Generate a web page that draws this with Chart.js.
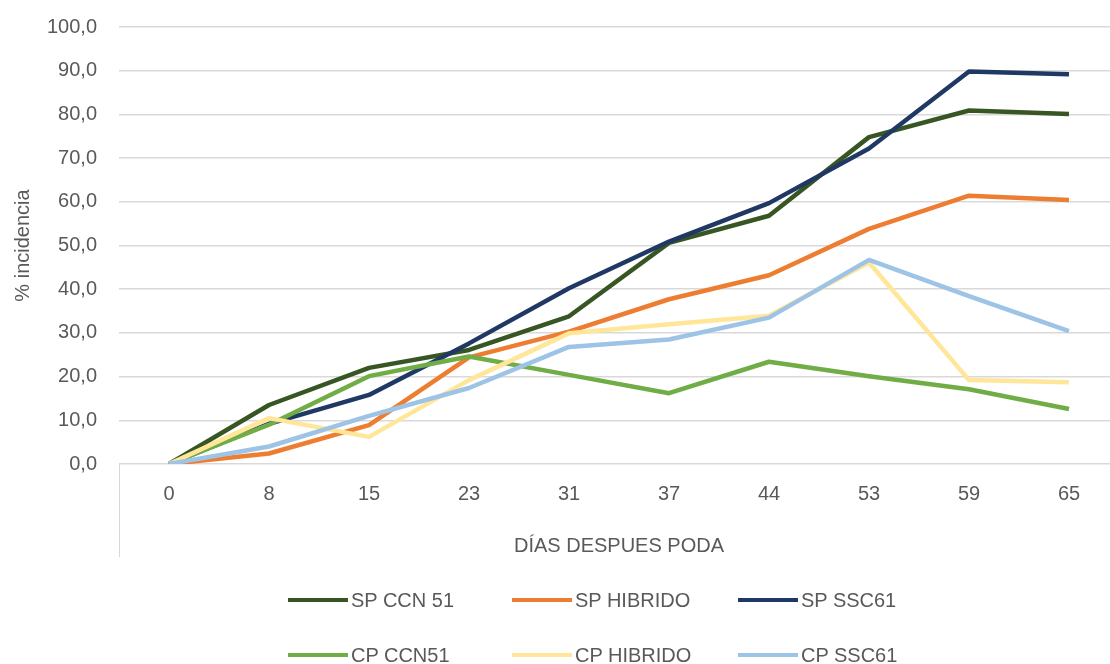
<!DOCTYPE html>
<html lang="es">
<head>
  <meta charset="UTF-8">
  <title>Incidencia</title>
  <script src="https://cdn.jsdelivr.net/npm/chart.js"></script>
  <style>
    html, body { margin: 0; padding: 0; background: #fff; overflow: hidden; }
    .wrap { position: relative; width: 1110px; height: 664px; overflow: hidden; }
    #chart { position: absolute; left: 0; top: -7px; }
    .legend-item { position: absolute; display: flex; align-items: center; font-family: 'Liberation Sans', Arial, sans-serif; font-size: 20px; color: #595959; white-space: nowrap; }
    .legend-item span.line { display: inline-block; width: 60px; height: 4px; margin-right: 3px; }
  </style>
</head>
<body>
  <div class="wrap">
    <canvas id="chart" width="1130" height="671"></canvas>
    <div id="legend"></div>
  </div>

  <script>
    const dias = ["0", "8", "15", "23", "31", "37", "44", "53", "59", "65"];

    const spCcn51  = [0, 13.5, 22.0, 26.1, 33.8, 50.6, 56.8, 74.8, 80.9, 80.1];
    const spHibrido = [0, 2.4, 8.9, 24.4, 30.3, 37.7, 43.2, 53.8, 61.4, 60.4];
    const spSsc61  = [0, 9.2, 15.8, 27.6, 40.2, 50.9, 59.7, 72.2, 89.8, 89.2];
    const cpCcn51  = [0, 9.0, 20.1, 24.6, 20.4, 16.2, 23.4, 20.1, 17.1, 12.6];
    const cpHibrido = [0, 10.5, 6.2, 19.2, 29.9, 32.0, 33.9, 46.1, 19.2, 18.7];
    const cpSsc61  = [0, 4.0, 11.0, 17.4, 26.8, 28.5, 33.5, 46.7, 38.4, 30.4];

    const seriesNames = ["SP CCN 51", "SP HIBRIDO", "SP SSC61", "CP CCN51", "CP HIBRIDO", "CP SSC61"];
    const seriesData = [spCcn51, spHibrido, spSsc61, cpCcn51, cpHibrido, cpSsc61];
    const seriesColors = ["#375623", "#ED7D31", "#1F3864", "#70AD47", "#FFE699", "#9DC3E6"];

    const font = "'Liberation Sans', Arial, sans-serif";
    const textColor = "#595959";
    const gridColor = "#d9d9d9";

    // vertical line under the plot on the left, below the category axis
    const axisStub = {
      id: "axisStub",
      afterDraw(chart) {
        const { ctx, chartArea } = chart;
        ctx.save();
        ctx.strokeStyle = gridColor;
        ctx.lineWidth = 1;
        ctx.beginPath();
        ctx.moveTo(chartArea.left + 0.5, chartArea.bottom);
        ctx.lineTo(chartArea.left + 0.5, chartArea.bottom + 93);
        ctx.stroke();
        ctx.restore();
      }
    };

    const datasets = seriesNames.map((name, i) => ({
      label: name,
      data: seriesData[i],
      borderColor: seriesColors[i],
      backgroundColor: seriesColors[i],
      borderWidth: 4.5,
      pointRadius: 0,
      tension: 0,
      borderJoinStyle: "round",
      order: seriesNames.length - i
    }));

    new Chart(document.getElementById("chart").getContext("2d"), {
      type: "line",
      data: { labels: dias, datasets },
      options: {
        responsive: false,
        animation: false,
        devicePixelRatio: 1,
        layout: { padding: { top: 17, right: 11, bottom: 100, left: 0 } },
        plugins: {
          legend: { display: false },
          tooltip: { enabled: false }
        },
        scales: {
          x: {
            offset: true,
            grid: { display: false },
            border: { display: false },
            ticks: { color: textColor, font: { family: font, size: 20 }, padding: 10, maxRotation: 0 },
            title: {
              display: true,
              text: "DÍAS DESPUES PODA",
              color: textColor,
              font: { family: font, size: 20 },
              padding: { top: 0, bottom: 6 }
            },
            afterFit(scale) { scale.height = 100; }
          },
          y: {
            min: 0,
            max: 100,
            ticks: {
              stepSize: 10,
              color: textColor,
              font: { family: font, size: 20 },
              padding: 22,
              callback: v => v.toFixed(1).replace(".", ",")
            },
            grid: { color: gridColor, lineWidth: 1.5, drawTicks: false },
            border: { display: false },
            title: {
              display: true,
              text: "% incidencia",
              color: textColor,
              font: { family: font, size: 20 },
              padding: { top: 11, bottom: 0 }
            },
            afterFit(scale) { scale.width = 119; }
          }
        }
      },
      plugins: [axisStub]
    });

    // legend in two rows of three, columns aligned
    const legendCols = [288, 512, 738];
    const legendRows = [600, 655];
    const legend = document.getElementById("legend");
    seriesNames.forEach((name, i) => {
      const item = document.createElement("div");
      item.className = "legend-item";
      item.style.left = legendCols[i % 3] + "px";
      item.style.top = (legendRows[Math.floor(i / 3)] - 14) + "px";
      item.style.height = "28px";
      item.innerHTML = `<span class="line" style="background:${seriesColors[i]}"></span>${name}`;
      legend.appendChild(item);
    });
  </script>
</body>
</html>
